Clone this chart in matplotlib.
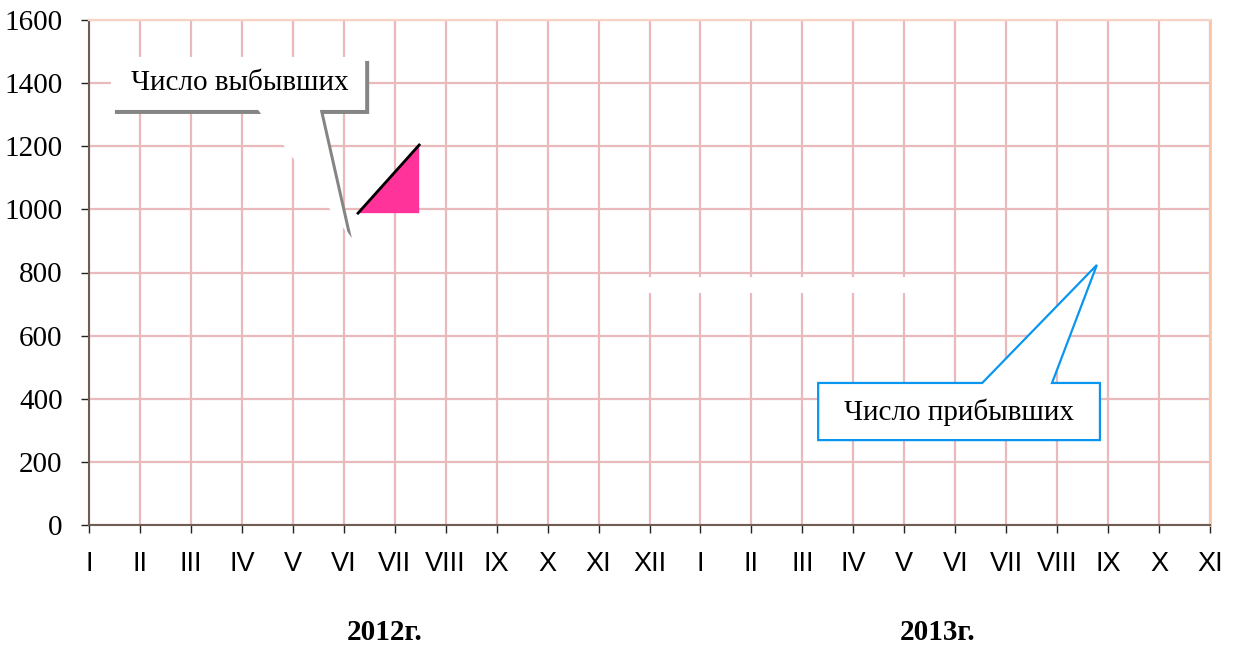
import matplotlib
matplotlib.use("Agg")
import matplotlib.pyplot as plt
import matplotlib.transforms as mtransforms
from matplotlib.patches import Polygon

# Axis data
months = ["I", "II", "III", "IV", "V", "VI", "VII", "VIII", "IX", "X", "XI", "XII",
          "I", "II", "III", "IV", "V", "VI", "VII", "VIII", "IX", "X", "XI"]
y_ticks = [0, 200, 400, 600, 800, 1000, 1200, 1400, 1600]
years = ["2012г.", "2013г."]

# Fragment of the "left" series (pink area)
left_x = [5.28, 6.48, 6.48]
left_y = [988, 1204, 988]

# Hidden (white) series
hidden_x = [10.95, 16.05]
hidden_y = [760, 760]

grid_col = "#E9B9BC"
spine_col = "#6E5D55"

fig = plt.figure(figsize=(12.35, 6.51), dpi=100)
ax = fig.add_axes([89 / 1235, 1 - 525 / 651, (1210 - 89) / 1235, (525 - 20) / 651])

x = list(range(len(months)))
ax.set_xlim(0, len(months) - 1)
ax.set_ylim(0, 1600)
ax.set_xticks(x)
ax.set_xticklabels(months, fontfamily="Liberation Sans", fontsize=19.5)
ax.set_yticks(y_ticks)
ax.set_yticklabels([str(v) for v in y_ticks], fontfamily="Liberation Serif", fontsize=21)
ax.tick_params(axis="x", direction="out", length=6, width=1, color="#222222", pad=13)
ax.tick_params(axis="y", direction="out", length=6, width=1, color="#222222", pad=13)

ax.grid(True, color=grid_col, linewidth=1.6)
ax.set_axisbelow(True)
ax.spines["left"].set_color(spine_col)
ax.spines["bottom"].set_color(spine_col)
ax.spines["left"].set_linewidth(1.5)
ax.spines["bottom"].set_linewidth(1.5)
ax.spines["top"].set_color("#F7D3C6")
ax.spines["right"].set_color("#F6C7A8")
ax.spines["top"].set_linewidth(1.6)
ax.spines["right"].set_linewidth(2)

# hidden white series
ax.plot(hidden_x, hidden_y, color="white", linewidth=11.5, solid_capstyle="butt", zorder=2)

# pink triangle with black diagonal
ax.fill(left_x, left_y, color="#FF3399", zorder=3, linewidth=0)
ax.plot(left_x[:2], left_y[:2], color="black", linewidth=2, zorder=4)

# callout 1: "Число выбывших" with grey shadow
c1 = [(0.43, 1483), (5.42, 1483), (5.42, 1315), (4.53, 1315), (5.08, 922),
      (3.32, 1315), (0.43, 1315)]
shadow_tr = ax.transData + mtransforms.ScaledTranslation(4 / 100, -4 / 100, fig.dpi_scale_trans)
ax.add_patch(Polygon(c1, closed=True, facecolor="#858585", edgecolor="none",
                     transform=shadow_tr, zorder=5, clip_on=False))
ax.add_patch(Polygon(c1, closed=True, facecolor="white", edgecolor="none",
                     zorder=6, clip_on=False))
ax.text(2.95, 1400, "Число выбывших", ha="center", va="center",
        fontfamily="Liberation Serif", fontsize=21, zorder=7)

# callout 2: "Число прибывших" with blue outline
c2 = [(14.31, 450), (17.53, 450), (19.78, 824), (18.90, 450), (19.84, 450),
      (19.84, 269), (14.31, 269)]
ax.add_patch(Polygon(c2, closed=True, facecolor="white", edgecolor="#0A96F0",
                     linewidth=1.6, zorder=6, clip_on=False))
ax.text(17.07, 358, "Число прибывших", ha="center", va="center",
        fontfamily="Liberation Serif", fontsize=21, zorder=7)

# year labels
fig.text(385 / 1235, 1 - 632 / 651, years[0], ha="center", va="center",
         fontfamily="Liberation Serif", fontweight="bold", fontsize=21)
fig.text(938 / 1235, 1 - 632 / 651, years[1], ha="center", va="center",
         fontfamily="Liberation Serif", fontweight="bold", fontsize=21)

fig.savefig("out.png", dpi=100)
